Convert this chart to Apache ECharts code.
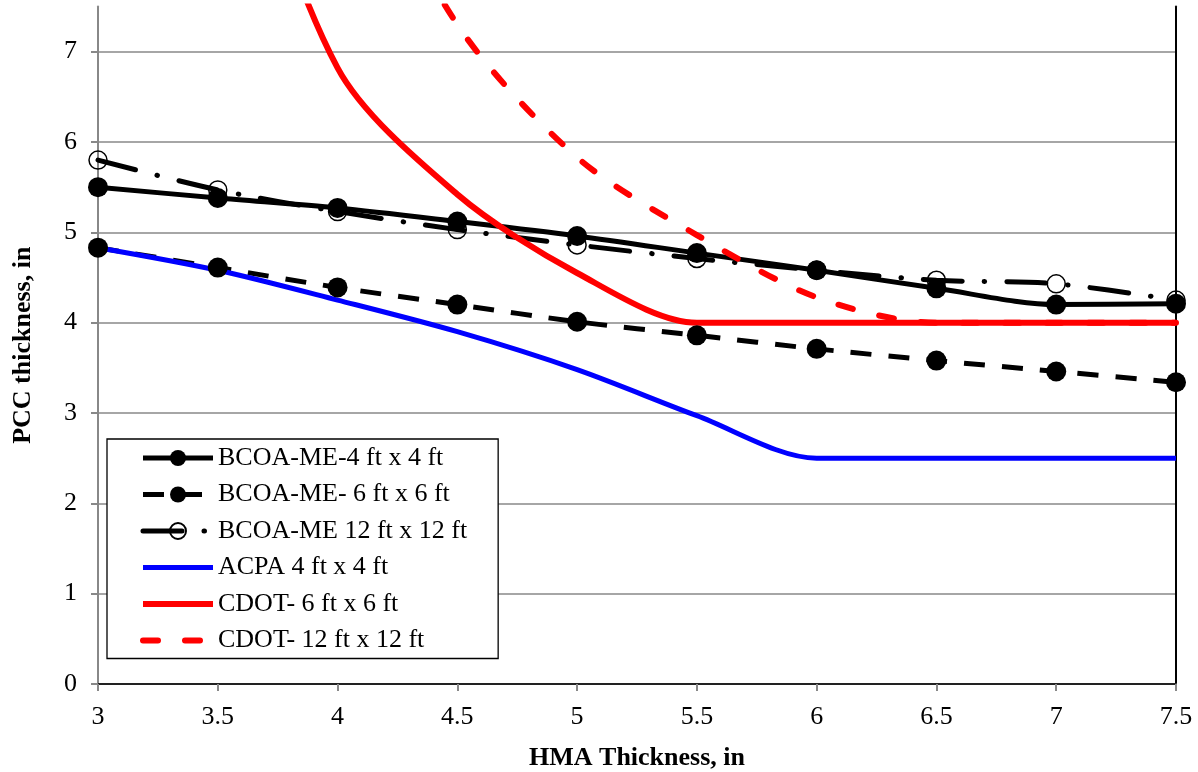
<!DOCTYPE html>
<html><head><meta charset="utf-8">
<script src="https://cdn.jsdelivr.net/npm/echarts@6/dist/echarts.min.js"></script>
<style>html,body{margin:0;padding:0;background:#fff}#c{width:1198px;height:772px}</style>
</head><body><div id="c"></div>
<script>
const hma = [3, 3.5, 4, 4.5, 5, 5.5, 6, 6.5, 7, 7.5];
const bcoa4 = [5.50, 5.38, 5.27, 5.12, 4.96, 4.77, 4.58, 4.38, 4.20, 4.21];
const bcoa6 = [4.83, 4.61, 4.39, 4.20, 4.01, 3.86, 3.71, 3.58, 3.46, 3.34];
const bcoa12 = [5.80, 5.47, 5.23, 5.03, 4.86, 4.71, 4.58, 4.47, 4.43, 4.25];
const acpa4 = [4.83, 4.58, 4.25, 3.90, 3.48, 2.97, 2.50, 2.50, 2.50, 2.50];
const cdot6 = [14.0, 10.4, 6.82, 5.42, 4.55, 4.00, 4.00, 4.00, 4.00, 4.00];
const cdot12 = [null, 12.5, 9.8, 7.30, 5.83, 4.97, 4.28, 4.00, 4.00, 4.00];
const names = ['BCOA-ME-4 ft x 4 ft', 'BCOA-ME- 6 ft x 6 ft', 'BCOA-ME 12 ft x 12 ft', 'ACPA 4 ft x 4 ft', 'CDOT- 6 ft x 6 ft', 'CDOT- 12 ft x 12 ft'];
const yTicks = [0, 1, 2, 3, 4, 5, 6, 7];
const xTitle = 'HMA Thickness, in';
const yTitle = 'PCC thickness, in';

const pairs = arr => hma.map((x, i) => [x, arr[i]]);
const FONT = "'Liberation Serif', 'Times New Roman', serif";
const gray = '#888888';
const SM = 0.3;
const BW = 5, RW = 6;

const chart = echarts.init(document.getElementById('c'), null, {renderer: 'canvas'});
chart.setOption({
  backgroundColor: '#fff',
  animation: false,
  textStyle: {fontFamily: FONT, color: '#000'},
  grid: {left: 98, right: 22, top: 6.5, bottom: 88, containLabel: false, outerBoundsMode: 'none'},
  legend: {
    orient: 'vertical', left: 107, top: 439,
    backgroundColor: '#fff', borderColor: '#000', borderWidth: 1.3,
    padding: [6, 31, 5, 33],
    itemWidth: 70, itemHeight: 20, itemGap: 10.5,
    textStyle: {fontFamily: FONT, fontSize: 26, color: '#000', lineHeight: 26, padding: [0, 0, 0, 0]},
    data: [
      {name: names[0], lineStyle: {width: BW}},
      {name: names[1], lineStyle: {width: BW}},
      {name: names[2], lineStyle: {width: BW}},
      {name: names[3], lineStyle: {width: BW}, itemStyle: {opacity: 0}},
      {name: names[4], lineStyle: {width: RW}, itemStyle: {opacity: 0}},
      {name: names[5], lineStyle: {width: RW}, itemStyle: {opacity: 0}}
    ]
  },
  xAxis: [{
    type: 'value', min: 3, max: 7.5, interval: 0.5,
    name: xTitle, nameLocation: 'middle', nameGap: 61,
    nameTextStyle: {fontFamily: FONT, fontSize: 26, fontWeight: 'bold', color: '#000'},
    axisLine: {show: true, lineStyle: {color: gray, width: 2}},
    axisTick: {show: true, inside: false, length: 7, lineStyle: {color: gray, width: 2}},
    axisLabel: {fontFamily: FONT, fontSize: 26, color: '#000', margin: 20},
    splitLine: {show: false}
  }, {
    type: 'value', min: 3, max: 7.5, position: 'top',
    axisLine: {show: true, lineStyle: {color: '#000', width: 1.5}},
    axisTick: {show: false}, axisLabel: {show: false}, splitLine: {show: false}
  }],
  yAxis: [{
    type: 'value', min: 0, max: 7.5, interval: 1,
    name: yTitle, nameLocation: 'middle', nameGap: 62,
    nameTextStyle: {fontFamily: FONT, fontSize: 26, fontWeight: 'bold', color: '#000'},
    axisLine: {show: true, lineStyle: {color: gray, width: 2}},
    axisTick: {show: true, length: 7, lineStyle: {color: gray, width: 2}, customValues: yTicks},
    axisLabel: {fontFamily: FONT, fontSize: 26, color: '#000', margin: 21, customValues: yTicks,
      formatter: v => (v === 7.5 ? '' : String(v))},
    splitLine: {show: true, lineStyle: {color: gray, width: 1.5}}
  }, {
    type: 'value', min: 0, max: 7.5, position: 'right',
    axisLine: {show: true, lineStyle: {color: '#000', width: 2}},
    axisTick: {show: false}, axisLabel: {show: false}, splitLine: {show: false}
  }],
  series: [
    {name: names[0], type: 'line', data: pairs(bcoa4), smooth: SM,
     symbol: 'circle', symbolSize: 20, itemStyle: {color: '#000'},
     lineStyle: {color: '#000', width: BW}},
    {name: names[1], type: 'line', data: pairs(bcoa6), smooth: SM,
     symbol: 'circle', symbolSize: 20, itemStyle: {color: '#000'},
     lineStyle: {color: '#000', width: BW, type: [21, 17], cap: 'butt'}},
    {name: names[2], type: 'line', data: pairs(bcoa12), smooth: SM,
     symbol: 'circle', symbolSize: 18,
     itemStyle: {color: 'rgba(255,255,255,0)', borderColor: '#000', borderWidth: 1.5},
     lineStyle: {color: '#000', width: BW, type: [39, 22, 0.5, 22], cap: 'round'}},
    {name: names[3], type: 'line', data: pairs(acpa4), smooth: SM, symbol: 'none',
     itemStyle: {color: '#0000ff'}, lineStyle: {color: '#0000ff', width: BW}},
    {name: names[4], type: 'line', data: pairs(cdot6), smooth: SM, symbol: 'none',
     itemStyle: {color: '#ff0000'}, lineStyle: {color: '#ff0000', width: RW}},
    {name: names[5], type: 'line', data: pairs(cdot12), smooth: SM, symbol: 'none',
     itemStyle: {color: '#ff0000'}, lineStyle: {color: '#ff0000', width: RW, type: [15, 27], cap: 'round'}}
  ]
});
</script></body></html>
